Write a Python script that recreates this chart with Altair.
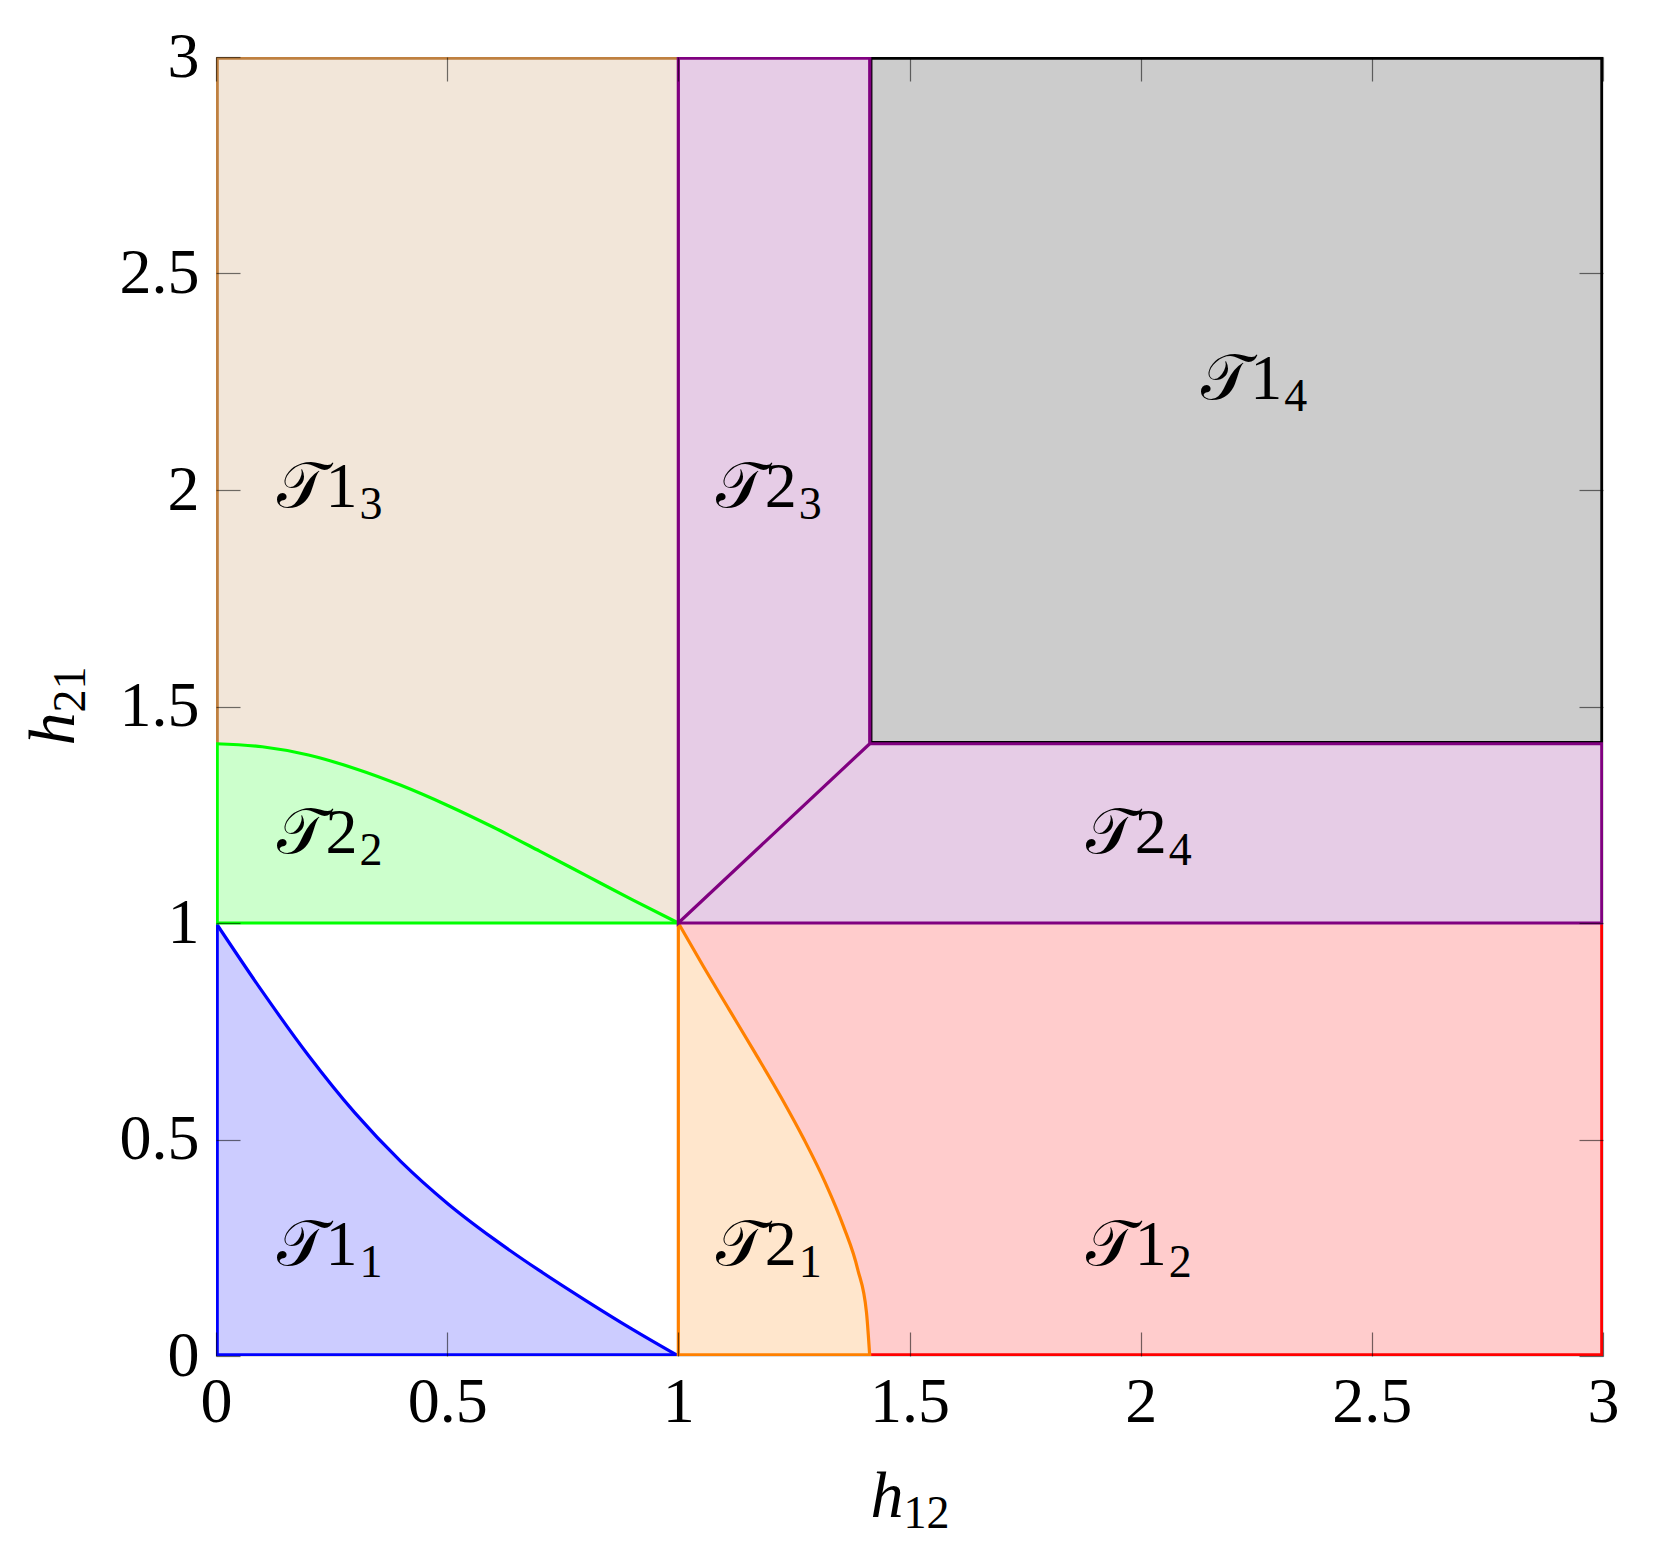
import altair as alt
import pandas as pd

# ---- boundary curves ----
blue_x = [0.0, 0.1, 0.2, 0.3, 0.4, 0.5, 0.6, 0.7, 0.8, 0.9, 1.0]
blue_y = [1.0, 0.842, 0.694, 0.562, 0.449, 0.353, 0.271, 0.197, 0.128, 0.062, 0.0]
green_x = [0.0, 0.1, 0.2, 0.3, 0.4, 0.5, 0.6, 0.7, 0.8, 0.9, 1.0]
green_y = [1.414, 1.407, 1.388, 1.357, 1.318, 1.272, 1.221, 1.166, 1.110, 1.054, 1.0]
orange_y = [1.0, 0.9, 0.8, 0.7, 0.6, 0.5, 0.4, 0.3, 0.2, 0.1, 0.0]
orange_x = [1.0, 1.054, 1.110, 1.166, 1.221, 1.272, 1.318, 1.357, 1.388, 1.407, 1.414]
corner = 1.414
top = 3.0

# ---- region labels ----
label_x = [0.25, 1.2, 2.0, 0.25, 0.25, 1.2, 2.0, 2.25]
label_y = [0.25, 0.25, 0.25, 1.2, 2.0, 2.0, 1.2, 2.25]
label_main = ["𝒯1", "𝒯2", "𝒯1", "𝒯2", "𝒯1", "𝒯2", "𝒯2", "𝒯1"]
label_sub = ["1", "1", "2", "2", "3", "3", "4", "4"]

tick_values = [0, 0.5, 1, 1.5, 2, 2.5, 3]

FONT = "Liberation Serif"
W, H = 1387, 1299
LW = 3.2      # interior line width
BW = 5.6      # frame-side line width (half of it is clipped away)
xs = alt.Scale(domain=[0, 3], nice=False, zero=False)
ys = alt.Scale(domain=[0, 3], nice=False, zero=False)


def ex(f="x"):
    return alt.X(f"{f}:Q", scale=xs, axis=None)


def wy(f="y"):
    return alt.Y(f"{f}:Q", scale=ys, axis=None)


def area_v(xv, yv, y2v, color, interp="linear"):
    df = pd.DataFrame({"x": xv, "y": yv, "y2": y2v})
    return alt.Chart(df).mark_area(color=color, opacity=1, fillOpacity=1,
                                   interpolate=interp).encode(x=ex(), y=wy(), y2="y2:Q")


def area_h(yv, xv, x2v, color, interp="linear"):
    df = pd.DataFrame({"y": yv, "x": xv, "x2": x2v})
    return alt.Chart(df).mark_area(color=color, opacity=1, fillOpacity=1, orient="horizontal",
                                   interpolate=interp).encode(y=wy(), x=ex(), x2="x2:Q")


def curve(xv, yv, color, width=LW, orient="vertical"):
    df = pd.DataFrame({"x": xv, "y": yv})
    return alt.Chart(df).mark_line(color=color, strokeWidth=width, interpolate="monotone",
                                   orient=orient, clip=True).encode(x=ex(), y=wy())


def edges(polys, color, width=LW):
    rows = []
    for s, poly in enumerate(polys):
        for i, (px, py) in enumerate(poly):
            rows.append({"x": px, "y": py, "seg": s, "ord": i})
    df = pd.DataFrame(rows)
    return alt.Chart(df).mark_line(color=color, strokeWidth=width, clip=True,
                                   strokeJoin="miter").encode(
        x=ex(), y=wy(), detail="seg:N", order="ord:Q")


S = corner
n_b = len(blue_x)
n_g = len(green_x)
n_o = len(orange_x)

fills = [
    area_v(blue_x, blue_y, [0.0] * n_b, "#ccccff", "monotone"),
    area_v(green_x, green_y, [1.0] * n_g, "#ccffcc", "monotone"),
    area_v(green_x, [top] * n_g, green_y, "#f2e6d9", "monotone"),
    area_h(orange_y, [1.0] * n_o, orange_x, "#ffe6cc", "monotone"),
    area_h(orange_y, orange_x, [3.0] * n_o, "#ffcccc", "monotone"),
    area_v([S, 3.0], [top, top], [S, S], "#cccccc"),
]
purple_fills = [
    area_v([1.0, S], [top, top], [1.0, S], "#e6cce6"),
    area_v([1.0, S, 3.0], [1.0, S, S], [1.0, 1.0, 1.0], "#e6cce6"),
]

strokes = [
    edges([[(1, 0), (0, 0), (0, 1)]], "#0000ff", BW),
    curve(blue_x, blue_y, "#0000ff"),
    edges([[(S, 0), (3, 0), (3, 1)]], "#ff0000", BW),
    edges([[(S, 0), (1, 0)]], "#ff8000", BW),
    edges([[(1, 0), (1, 1)]], "#ff8000"),
    curve(orange_x, orange_y, "#ff8000", orient="horizontal"),
    edges([[(1, 3), (0, 3), (0, S)]], "#bf8040", BW),
    edges([[(0, S), (0, 1)]], "#00ff00", BW),
    edges([[(0, 1), (1, 1)]], "#00ff00"),
    curve(green_x, green_y, "#00ff00"),
]
purple_strokes = [
    edges([[(S, 3), (1, 3)], [(3, S), (3, 1)]], "#800080", BW),
    edges([[(1, 3), (1, 1), (S, S), (S, 3)],
           [(1, 1), (3, 1)], [(S, S), (3, S)]], "#800080"),
]
black_stroke = edges([[(S, S), (S, 3), (3, 3), (3, S), (S, S)]], "#000000", 5.4)

tick_common = dict(values=tick_values, offset=-24, tickSize=24, tickColor="black",
                   tickOpacity=0.55, tickWidth=1.2, domain=False, grid=False, title=None,
                   zindex=1)
axis_bottom = alt.Axis(orient="bottom", format="~g", labelFont=FONT, labelFontSize=64,
                       labelColor="black", labelPadding=14, labelFlush=False,
                       labelOverlap=False, **tick_common)
axis_left = alt.Axis(orient="left", format="~g", labelFont=FONT, labelFontSize=64,
                     labelColor="black", labelPadding=17, labelFlush=False,
                     labelOverlap=False, **tick_common)
axis_top = alt.Axis(orient="top", labels=False, **tick_common)
axis_right = alt.Axis(orient="right", labels=False, **tick_common)

tick_df = pd.DataFrame({"x": tick_values, "y": tick_values})
axes_a = alt.Chart(tick_df).mark_point(opacity=0).encode(
    x=alt.X("x:Q", scale=xs, axis=axis_bottom), y=alt.Y("y:Q", scale=ys, axis=axis_left))
axes_b = alt.Chart(tick_df).mark_point(opacity=0).encode(
    x=alt.X("x:Q", scale=xs, axis=axis_top), y=alt.Y("y:Q", scale=ys, axis=axis_right))

lab_df = pd.DataFrame({"x": label_x, "y": label_y, "main": label_main, "sub": label_sub})
lab_main = alt.Chart(lab_df).mark_text(font=FONT, fontSize=64, align="right",
                                       baseline="alphabetic", dx=26, dy=17,
                                       color="black").encode(x=ex(), y=wy(), text="main:N")
lab_sub = alt.Chart(lab_df).mark_text(font=FONT, fontSize=46, align="left",
                                      baseline="alphabetic", dx=28, dy=29,
                                      color="black").encode(x=ex(), y=wy(), text="sub:N")

one = pd.DataFrame({"k": [0]})
xt_h = alt.Chart(one).mark_text(text="h", font=FONT, fontStyle="italic", fontSize=66,
                                align="right", baseline="alphabetic", dx=-6,
                                color="black").encode(
    x=alt.XDatum(1.5, scale=xs, axis=None), y=alt.value(H + 161))
xt_s = alt.Chart(one).mark_text(text="12", font=FONT, fontSize=46, align="left",
                                baseline="alphabetic", dx=-6, color="black").encode(
    x=alt.XDatum(1.5, scale=xs, axis=None), y=alt.value(H + 172))
yt_h = alt.Chart(one).mark_text(text="h", font=FONT, fontStyle="italic", fontSize=66,
                                align="right", baseline="alphabetic", dx=-6, angle=270,
                                color="black").encode(
    y=alt.YDatum(1.5, scale=ys, axis=None), x=alt.value(-142))
yt_s = alt.Chart(one).mark_text(text="21", font=FONT, fontSize=46, align="left",
                                baseline="alphabetic", dx=-6, dy=11, angle=270,
                                color="black").encode(
    y=alt.YDatum(1.5, scale=ys, axis=None), x=alt.value(-142))

layers = (fills + [black_stroke] + purple_fills + strokes + purple_strokes
          + [axes_a, axes_b, lab_main, lab_sub, xt_h, xt_s, yt_h, yt_s])

chart = alt.layer(*layers).properties(
    width=W, height=H,
    padding={"left": 208, "top": 49, "right": 40, "bottom": 190},
    autosize=alt.AutoSizeParams(type="none"),
).resolve_axis(x="independent", y="independent").configure_view(
    stroke="black", strokeWidth=1.2
).configure(background="white")

chart.save("out.html", embed_options={"renderer": "svg", "actions": False})
